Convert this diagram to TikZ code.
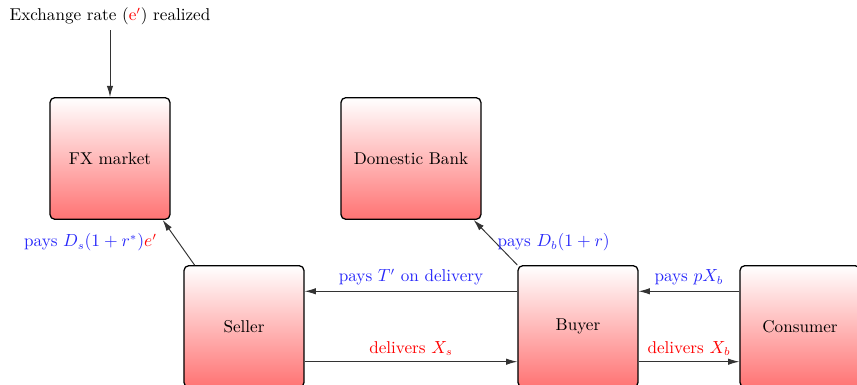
\documentclass[tikz,border=0pt]{standalone}
\usepackage{amsmath}
\usepackage{xcolor}
\usetikzlibrary{positioning, arrows.meta}

\definecolor{paycol}{RGB}{40,40,250}

\tikzset{
    agent/.style={draw, thick, rounded corners=3pt, on grid,
        top color=white, bottom color=red!55,
        minimum width=75pt, minimum height=76pt},
    flow/.style={->, semithick, draw=black!80}
}

\begin{document}
\begin{tikzpicture}[>={Latex[length=7pt, width=4pt]}, font=\fontsize{10.7pt}{13pt}\selectfont]
    \clip (-68.75pt,-141.56pt) rectangle (466.88pt,99.06pt);

    \node[agent] (fx) {FX market};
    \node[agent] (seller) [below right=105pt and 83.75pt of fx] {Seller};
    \node[agent] (buyer) [right=208.75pt of seller] {Buyer};
    \node[agent, minimum width=87.5pt] (bank) [above left=105pt and 104.4pt of buyer] {Domestic Bank};
    \node[agent] (consumer) [right=138.75pt of buyer] {Consumer};
    \node[on grid] (rate) [above=89pt of fx] {Exchange rate (\textcolor{red}{e$'$}) realized};

    \draw[flow] (rate) -- (fx);
    \draw[flow] ([xshift=7pt]seller.north west) -- ([xshift=-5pt]fx.south east)
        node[midway, left=10pt, paycol] {pays $D_s(1+r^*)\textcolor{red}{e'}$};
    \draw[flow] (buyer.north west) -- ([xshift=-5pt]bank.south east)
        node[midway, right, inner sep=1pt, paycol] {pays $D_b(1+r)$};
    \draw[flow] ([yshift=22pt]buyer.west) -- ([yshift=22pt]seller.east)
        node[midway, above, paycol] {pays $T'$ on delivery};
    \draw[flow] ([yshift=-22pt]seller.east) -- ([yshift=-22pt]buyer.west)
        node[midway, above, red] {delivers $X_s$};
    \draw[flow] ([yshift=22pt]consumer.west) -- ([yshift=22pt]buyer.east)
        node[midway, above, paycol] {pays $pX_b$};
    \draw[flow] ([yshift=-22pt]buyer.east) -- ([yshift=-22pt]consumer.west)
        node[midway, above, red] {delivers $X_b$};
\end{tikzpicture}
\end{document}
